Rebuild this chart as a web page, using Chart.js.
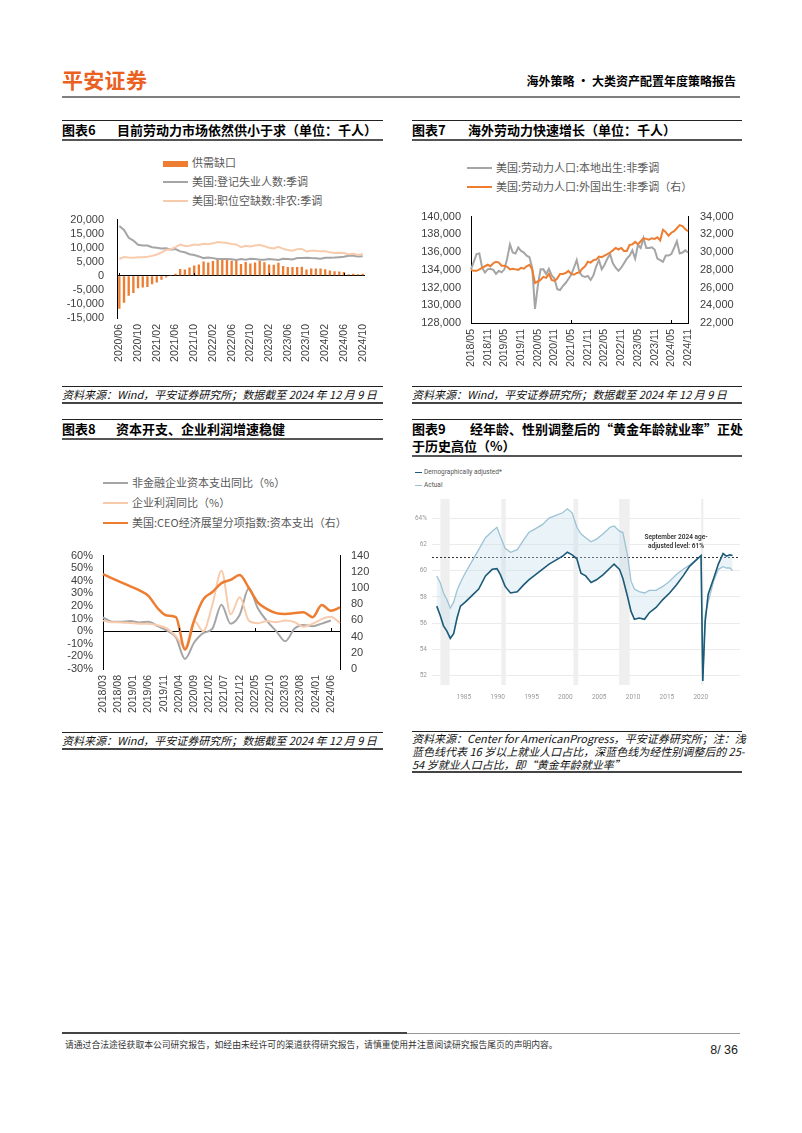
<!DOCTYPE html>
<html lang="zh-CN">
<head>
<meta charset="utf-8">
<title>海外策略 · 大类资产配置年度策略报告</title>
<script src="https://cdn.jsdelivr.net/npm/chart.js@4.4.1/dist/chart.umd.min.js"></script>
<style>
    html, body { margin: 0; padding: 0; background: #fff; }
    body { position: relative; width: 802px; height: 1133px; overflow: hidden; font-family: "Noto Sans CJK SC", "Noto Sans", sans-serif; color: #000; }
    .abs { position: absolute; }
    .logo { left: 62px; top: 65px; font-size: 21px; font-weight: 700; color: #e9601f; line-height: 28px; letter-spacing: 0.3px; }
    .report { right: 66px; top: 72px; font-size: 12px; font-weight: 700; line-height: 17px; }
    .topRule { left: 62px; top: 96px; width: 678px; height: 2px; background: #7f7f7f; }
    .head { border-top: 1px solid #222; border-bottom: 2px solid #555; font-size: 13px; font-weight: 700; line-height: 18px; }
    .head span { position: absolute; top: 0; white-space: nowrap; }
    .src { border-top: 1px solid #222; border-bottom: 2px solid #444; font-size: 11px; font-style: italic; line-height: 15px; color: #111; white-space: nowrap; }
    .lg { font-size: 11px; line-height: 14px; color: #595959; white-space: nowrap; }
    .sw { display: inline-block; width: 25px; height: 2px; vertical-align: middle; margin-right: 4px; position: relative; top: -1px; }
    .lg9 { font-family: Roboto, "Liberation Sans", sans-serif; font-size: 6.5px; line-height: 9px; color: #555; white-space: nowrap; }
    .sw9 { display: inline-block; width: 7px; height: 1.5px; vertical-align: middle; margin-right: 2px; }
    .note9 { font-family: Roboto, "Liberation Sans", sans-serif; font-size: 6.5px; line-height: 9px; color: #333; font-weight: 600; text-align: center; width: 90px; }
    .foot { left: 65px; top: 1039px; font-size: 8.8px; line-height: 12px; color: #333; white-space: nowrap; }
    canvas { position: absolute; }
</style>
</head>
<body>

<div class="abs logo">平安证券</div>
<div class="abs report">海外策略 · 大类资产配置年度策略报告</div>
<div class="abs topRule"></div>

<!-- 图表6 -->
<div class="abs head" style="left:62px;top:120px;width:321px;height:18px;">
    <span style="left:0">图表6</span><span style="left:55px">目前劳动力市场依然供小于求（单位：千人）</span>
</div>
<div class="abs lg" style="left:163px;top:155px;"><span class="sw" style="height:6px;top:0;background:#ED7D31"></span>供需缺口</div>
<div class="abs lg" style="left:163px;top:174px;"><span class="sw" style="background:#A5A5A5"></span>美国:登记失业人数:季调</div>
<div class="abs lg" style="left:163px;top:193px;"><span class="sw" style="background:#F8CBAD"></span>美国:职位空缺数:非农:季调</div>
<canvas id="chart6" width="323" height="170" style="left:62px;top:200px;"></canvas>
<div class="abs src" style="left:62px;top:386px;width:321px;height:15px;">资料来源：Wind，平安证券研究所；数据截至 2024 年 12 月 9 日</div>

<!-- 图表7 -->
<div class="abs head" style="left:412px;top:120px;width:330px;height:18px;">
    <span style="left:0">图表7</span><span style="left:56px">海外劳动力快速增长（单位：千人）</span>
</div>
<div class="abs lg" style="left:467px;top:160px;"><span class="sw" style="background:#A5A5A5"></span>美国:劳动力人口:本地出生:非季调</div>
<div class="abs lg" style="left:467px;top:179px;"><span class="sw" style="background:#ED7D31"></span>美国:劳动力人口:外国出生:非季调（右）</div>
<canvas id="chart7" width="340" height="177" style="left:405px;top:198px;"></canvas>
<div class="abs src" style="left:412px;top:386px;width:330px;height:15px;">资料来源：Wind，平安证券研究所；数据截至 2024 年 12 月 9 日</div>

<!-- 图表8 -->
<div class="abs head" style="left:62px;top:419px;width:321px;height:18px;">
    <span style="left:0">图表8</span><span style="left:54px">资本开支、企业利润增速稳健</span>
</div>
<div class="abs lg" style="left:103px;top:475px;"><span class="sw" style="background:#A5A5A5"></span>非金融企业资本支出同比（%）</div>
<div class="abs lg" style="left:103px;top:495px;"><span class="sw" style="background:#F8CBAD"></span>企业利润同比（%）</div>
<div class="abs lg" style="left:103px;top:515px;"><span class="sw" style="background:#ED7D31"></span>美国:CEO经济展望分项指数:资本支出（右）</div>
<canvas id="chart8" width="323" height="182" style="left:62px;top:538px;"></canvas>
<div class="abs src" style="left:62px;top:732px;width:321px;height:15px;">资料来源：Wind，平安证券研究所；数据截至 2024 年 12 月 9 日</div>

<!-- 图表9 -->
<div class="abs head" style="left:412px;top:419px;width:330px;height:35px;line-height:17px;">
    <span style="left:0">图表9</span>
    <span style="left:58px;width:272px;text-align:justify;text-align-last:justify;">经年龄、性别调整后的“黄金年龄就业率”正处</span>
    <span style="left:0;top:17px">于历史高位（%）</span>
</div>
<div class="abs lg9" style="left:415px;top:468px;"><span class="sw9" style="background:#1b5a78"></span>Demographically adjusted*</div>
<div class="abs lg9" style="left:415px;top:481px;"><span class="sw9" style="background:#9cc3d5"></span>Actual</div>
<canvas id="chart9" width="340" height="215" style="left:405px;top:490px;"></canvas>
<div class="abs note9" style="left:631px;top:533px;">September 2024 age-<br>adjusted level: 61%</div>
<div class="abs src" style="left:412px;top:731px;width:330px;height:39px;line-height:13px;">
    <div style="text-align:justify;text-align-last:justify;">资料来源：Center for AmericanProgress，平安证券研究所；注：浅</div>
    <div style="text-align:justify;text-align-last:justify;">蓝色线代表 16 岁以上就业人口占比，深蓝色线为经性别调整后的 25-</div>
    <div>54 岁就业人口占比，即“黄金年龄就业率”</div>
</div>

<div class="abs" style="left:62px;top:1032px;width:345px;height:2px;background:#444;"></div>
<div class="abs" style="left:407px;top:1033px;width:333px;height:1px;background:#999;"></div>
<div class="abs foot">请通过合法途径获取本公司研究报告，如经由未经许可的渠道获得研究报告，请慎重使用并注意阅读研究报告尾页的声明内容。</div>
<div class="abs" style="right:64px;top:1043px;font-family:'Liberation Sans',Arial,sans-serif;font-size:12.5px;color:#222;">8/ 36</div>

<script>
// ---------- 图表6 数据（千人，2020/06 - 2024/10 月度） ----------
const start6 = [2020, 6];
const gap6 = [-11700, -9600, -7050, -6100, -4400, -4150, -4000, -3000, -2400, -1400,
    -600, 150, 700, 2400, 2250, 3000, 3700, 4050, 5100, 4750,
    5300, 6050, 5900, 5700, 5400, 5500, 4200, 4950, 4400, 4750,
    5300, 4850, 4050, 3900, 4650, 3500, 3150, 3100, 3150, 3200,
    2250, 2650, 2600, 2600, 2300, 1900, 1650, 1550, 1350, 550,
    750, 550, 750];
const unemployed6 = [17700, 16300, 13550, 12550, 11050, 10750, 10750, 10150, 10000, 9700,
    9800, 9300, 9500, 8700, 8400, 7700, 7400, 6900, 6300, 6500,
    6300, 5950, 5950, 5950, 5900, 5650, 6000, 5750, 6050, 6000,
    5700, 5700, 5950, 5850, 5650, 6100, 6000, 5850, 6350, 6350,
    6450, 6300, 6250, 6100, 6450, 6450, 6500, 6650, 6800, 7150,
    7100, 6850, 7000];
const openings6 = [6000, 6700, 6500, 6450, 6650, 6600, 6750, 7100, 7600, 8300,
    9200, 9450, 10200, 11100, 10650, 10700, 11100, 10950, 11400, 11250,
    11550, 12050, 11850, 11700, 11300, 11150, 10200, 10700, 10450, 10750,
    11000, 10550, 10000, 9750, 10300, 9600, 9150, 8900, 9500, 9550,
    8700, 8950, 8900, 8700, 8750, 8350, 8150, 8200, 8150, 7700,
    7850, 7400, 7750];

// ---------- 图表7 数据（千人，2018/05 - 2024/11 月度） ----------
const start7 = [2018, 5];
const nativeBorn7 = [134050, 134900, 135770, 135840, 134230, 133700, 134050, 134120, 133990, 133540,
    133880, 133710, 134050, 135260, 136870, 135950, 135840, 136530, 136120, 135950,
    135600, 135430, 134230, 129590, 132170, 134050, 134050, 133540, 134120, 133370,
    133020, 131820, 131720, 132170, 132510, 132960, 133440, 134230, 135090, 133710,
    133300, 133200, 133300, 132850, 133370, 134400, 135090, 134050, 134570, 135260,
    135770, 134740, 134230, 133880, 134230, 134740, 135260, 135600, 136190, 135260,
    136800, 136460, 137560, 136460, 136460, 136530, 136290, 135260, 135090, 134910,
    135600, 135600, 135770, 136460, 137220, 135840, 135950, 136190, 135950];
const foreignBorn7 = [27990, 27880, 27880, 28050, 28230, 28400, 28570, 28400, 28740, 28910,
    28810, 28470, 28470, 28330, 28050, 28120, 28050, 27990, 28230, 28120,
    28400, 28570, 28050, 26510, 26680, 26850, 27200, 27090, 27540, 26850,
    26750, 27020, 27540, 27540, 27640, 27880, 27540, 27440, 27640, 27710,
    28120, 28400, 28910, 28810, 29090, 29150, 29500, 29430, 29600, 29770,
    29950, 30190, 30460, 30290, 30460, 30120, 30120, 30800, 30870, 31150,
    30870, 31220, 31560, 31490, 31390, 31560, 31490, 31660, 31320, 32520,
    32250, 31840, 32180, 32350, 32690, 33040, 32930, 32590, 32350];

// ---------- 图表8 数据（季度，轴为 2018/03 - 2024/09 月度） ----------
const start8 = [2018, 3];
const quarters8 = ['2018/03', '2018/06', '2018/09', '2018/12', '2019/03', '2019/06', '2019/09', '2019/12',
    '2020/03', '2020/06', '2020/09', '2020/12', '2021/03', '2021/06', '2021/09', '2021/12',
    '2022/03', '2022/06', '2022/09', '2022/12', '2023/03', '2023/06', '2023/09', '2023/12',
    '2024/03', '2024/06', '2024/09'];
const capex8 = [11, 7.5, 7.5, 8, 7, 7.5, 4, 0.5, -5, -22, -9, -1.5, 2, 21, 6, 13, 34, 18, 8, 0, -8, 2, 5, 4, 6, 8.5];
const profit8 = [8.4, 7.2, 7, 6.5, 6, 6, 4.7, 2.2, -4, -13, 8, 0, 21, 48, 13.4, 27, 8.4, 6.4, 8, 7.2, 8.4, 7.2, 3.5, 6, 9.6, 11.4, 6.4];
const ceo8 = [117, 112, 107, 102, 97, 90, 75, 66, 64, 24, 60, 86, 95, 106, 110, 116, 100, 82, 74, 69, 68, 69, 70, 64, 79, 72, 76];

// ---------- 图表9 数据（%） ----------
const years9 = [1981.0, 1981.5, 1982.0, 1982.5, 1983.0, 1983.5, 1984.0, 1984.5, 1985.2, 1986.2,
    1987.2, 1988.2, 1989.2, 1989.9, 1990.4, 1991.1, 1991.9, 1992.9, 1993.8, 1994.6,
    1995.6, 1996.6, 1997.6, 1998.6, 1999.6, 2000.3, 2001.0, 2001.7, 2002.3, 2003.0,
    2003.8, 2004.6, 2005.6, 2006.6, 2007.2, 2008.0, 2008.5, 2009.2, 2009.7, 2010.2,
    2010.9, 2011.7, 2012.4, 2013.4, 2014.4, 2015.4, 2016.4, 2017.4, 2018.3, 2019.3,
    2020.05, 2020.3, 2020.65, 2021.1, 2021.9, 2022.6, 2023.3, 2023.8, 2024.3, 2024.7];
const adjusted9 = [57.3, 56.6, 55.8, 55.4, 54.85, 55.2, 56.4, 57.3, 57.6, 58.1,
    58.6, 59.6, 60.1, 60.15, 59.7, 58.8, 58.3, 58.4, 58.9, 59.3,
    59.7, 60.1, 60.5, 60.8, 61.1, 61.4, 61.2, 60.9, 59.8, 59.6,
    59.1, 59.3, 59.7, 60.2, 60.5, 60.1, 59.4, 58.0, 56.9, 56.3,
    56.4, 56.3, 56.8, 57.2, 57.8, 58.3, 58.9, 59.6, 60.3, 60.8,
    61.15, 51.6, 56.1, 58.2, 59.4, 60.5, 61.3, 61.1, 61.2, 61.15];
const actual9 = [59.6, 59.1, 58.3, 57.8, 57.15, 57.6, 58.5, 59.1, 59.8, 60.7,
    61.6, 62.5, 63.0, 63.3, 62.6, 61.7, 61.4, 61.6, 62.3, 62.9,
    63.2, 63.5, 64.0, 64.2, 64.4, 64.7, 64.4, 63.3, 62.8, 62.5,
    62.2, 62.4, 62.8, 63.3, 63.4, 63.0, 62.9, 61.1, 59.2, 58.6,
    58.4, 58.3, 58.5, 58.5, 58.8, 59.2, 59.7, 60.1, 60.4, 60.8,
    61.1, 51.6, 56.6, 57.6, 59.2, 60.1, 60.3, 60.2, 60.2, 60.0];
const level9 = 61;
const recessionStart9 = [1981.55, 1990.55, 2001.2, 2007.95, 2020.05];
const recessionEnd9 = [1982.9, 1991.2, 2001.9, 2009.5, 2020.4];
const xTicks9 = [1985, 1990, 1995, 2000, 2005, 2010, 2015, 2020];
const yTicks9 = [52, 54, 56, 58, 60, 62, 64];

const orange = '#ED7D31';
const gray = '#A5A5A5';
const peach = '#F8CBAD';

function monthLabels(start, count) {
    const out = [];
    for (let i = 0; i < count; i++) {
        const k = start[1] - 1 + i;
        out.push((start[0] + Math.floor(k / 12)) + '/' + String(k % 12 + 1).padStart(2, '0'));
    }
    return out;
}

const months6 = monthLabels(start6, gap6.length);
const months7 = monthLabels(start7, nativeBorn7.length);
const months8 = monthLabels(start8, 79);

Chart.defaults.font.family = '"Liberation Sans", Arial, sans-serif';
Chart.defaults.color = '#404040';
Chart.defaults.animation = false;
Chart.defaults.responsive = false;
Chart.defaults.plugins.legend.display = false;
Chart.defaults.plugins.tooltip.enabled = false;

// short tick marks drawn inside the plot, as in the Excel charts
const innerTicks = {
    id: 'innerTicks',
    afterDatasetsDraw(chart, args, opts) {
        const ctx = chart.ctx;
        const area = chart.chartArea;
        const len = opts.len || 3;
        ctx.save();
        ctx.strokeStyle = '#000';
        ctx.lineWidth = 1;
        ctx.beginPath();
        for (const axis of opts.axes || []) {
            const scale = chart.scales[axis.id];
            const every = axis.every || 1;
            scale.ticks.forEach((tick, i) => {
                if (i % every !== 0) return;
                const p = Math.round(scale.getPixelForTick(i)) + 0.5;
                if (axis.side === 'left') {
                    ctx.moveTo(area.left, p);
                    ctx.lineTo(area.left + len, p);
                } else if (axis.side === 'right') {
                    ctx.moveTo(area.right, p);
                    ctx.lineTo(area.right - len, p);
                } else {
                    const base = axis.onScale ? chart.scales[axis.onScale].getPixelForValue(axis.at) : area.bottom;
                    const y = Math.round(base);
                    ctx.moveTo(p, y);
                    ctx.lineTo(p, y - len);
                }
            });
        }
        ctx.stroke();
        ctx.restore();
    }
};

const recessionBands = {
    id: 'recessionBands',
    beforeDatasetsDraw(chart, args, opts) {
        const x = chart.scales.x;
        const area = chart.chartArea;
        const ctx = chart.ctx;
        ctx.save();
        ctx.fillStyle = opts.color;
        opts.starts.forEach((s, i) => {
            const a = x.getPixelForValue(s);
            const b = x.getPixelForValue(opts.ends[i]);
            ctx.fillRect(a, area.top, Math.max(b - a, 2), area.bottom - area.top);
        });
        ctx.restore();
    }
};

const zeroLine = c => c.tick.value === 0 ? '#000' : 'rgba(0,0,0,0)';
const thousands = v => v.toLocaleString('en-US');

function monthAxis(every, height) {
    return {
        grid: { display: false, drawTicks: false },
        ticks: {
            autoSkip: false, minRotation: 90, maxRotation: 90, padding: 6,
            font: { size: 10.5 },
            callback(v, i) { return i % every === 0 ? this.getLabelForValue(v) : null; }
        },
        afterFit(s) { s.height = height; }
    };
}

// ---------- 图表6 ----------
const x6 = monthAxis(4, 52);
x6.offset = true;
x6.border = { display: false };
new Chart(document.getElementById('chart6'), {
    type: 'bar',
    data: {
        labels: months6,
        datasets: [
            { type: 'line', label: '美国:职位空缺数:非农:季调', data: openings6, borderColor: peach, borderWidth: 2, pointRadius: 0, order: 0 },
            { type: 'line', label: '美国:登记失业人数:季调', data: unemployed6, borderColor: gray, borderWidth: 2, pointRadius: 0, order: 1 },
            { type: 'bar', label: '供需缺口', data: gap6, backgroundColor: orange, barPercentage: 0.5, categoryPercentage: 1, order: 2 }
        ]
    },
    options: {
        layout: { padding: { top: 14, right: 20 } },
        scales: {
            x: x6,
            y: {
                min: -15000, max: 20000,
                ticks: { stepSize: 5000, autoSkip: false, padding: 13, font: { size: 11 }, callback: thousands },
                grid: { drawTicks: false, color: zeroLine },
                border: { display: true, color: '#000' },
                afterFit(s) { s.width = 55; }
            }
        },
        plugins: { innerTicks: { axes: [{ id: 'y', side: 'left' }, { id: 'x', every: 4, onScale: 'y', at: 0 }] } }
    },
    plugins: [innerTicks]
});

// ---------- 图表7 ----------
const x7 = monthAxis(6, 52);
x7.border = { display: true, color: '#000' };
new Chart(document.getElementById('chart7'), {
    type: 'line',
    data: {
        labels: months7,
        datasets: [
            { label: '美国:劳动力人口:本地出生:非季调', data: nativeBorn7, borderColor: gray, borderWidth: 2, pointRadius: 0, yAxisID: 'y', order: 1 },
            { label: '美国:劳动力人口:外国出生:非季调（右）', data: foreignBorn7, borderColor: orange, borderWidth: 2, pointRadius: 0, yAxisID: 'y1', order: 0 }
        ]
    },
    options: {
        layout: { padding: { top: 9 } },
        scales: {
            x: x7,
            y: {
                position: 'left', min: 128000, max: 140000,
                ticks: { stepSize: 2000, autoSkip: false, padding: 10, font: { size: 11 }, callback: thousands },
                grid: { display: false, drawTicks: false },
                border: { display: true, color: '#000' },
                afterFit(s) { s.width = 66; }
            },
            y1: {
                position: 'right', min: 22000, max: 34000,
                ticks: { stepSize: 2000, autoSkip: false, padding: 12, font: { size: 11 }, callback: thousands },
                grid: { display: false, drawTicks: false },
                border: { display: true, color: '#000' },
                afterFit(s) { s.width = 57; }
            }
        },
        plugins: { innerTicks: { axes: [{ id: 'y', side: 'left' }, { id: 'y1', side: 'right' }, { id: 'x', every: 6 }] } }
    },
    plugins: [innerTicks]
});

// ---------- 图表8 ----------
const x8 = monthAxis(5, 51);
x8.border = { display: false };
const quarterPoints = values => values.map((v, i) => ({ x: quarters8[i], y: v }));
new Chart(document.getElementById('chart8'), {
    type: 'line',
    data: {
        labels: months8,
        datasets: [
            { label: '非金融企业资本支出同比（%）', data: quarterPoints(capex8), borderColor: gray, borderWidth: 2, pointRadius: 0, cubicInterpolationMode: 'monotone', yAxisID: 'y', order: 2 },
            { label: '企业利润同比（%）', data: quarterPoints(profit8), borderColor: peach, borderWidth: 2, pointRadius: 0, cubicInterpolationMode: 'monotone', yAxisID: 'y', order: 1 },
            { label: '美国:CEO经济展望分项指数:资本支出（右）', data: quarterPoints(ceo8), borderColor: orange, borderWidth: 2.5, pointRadius: 0, cubicInterpolationMode: 'monotone', yAxisID: 'y1', order: 0 }
        ]
    },
    options: {
        layout: { padding: { top: 10 } },
        scales: {
            x: x8,
            y: {
                position: 'left', min: -30, max: 60,
                ticks: { stepSize: 10, autoSkip: false, padding: 10, font: { size: 11 }, callback: v => v + '%' },
                grid: { drawTicks: false, color: zeroLine },
                border: { display: true, color: '#000' },
                afterFit(s) { s.width = 41; }
            },
            y1: {
                position: 'right', min: 0, max: 140,
                ticks: { stepSize: 20, autoSkip: false, padding: 11, font: { size: 11 } },
                grid: { display: false, drawTicks: false },
                border: { display: true, color: '#000' },
                afterFit(s) { s.width = 45; }
            }
        },
        plugins: { innerTicks: { axes: [{ id: 'y', side: 'left' }, { id: 'y1', side: 'right' }, { id: 'x', every: 5, onScale: 'y', at: 0 }] } }
    },
    plugins: [innerTicks]
});

// ---------- 图表9 ----------
const pairs = values => values.map((v, i) => ({ x: years9[i], y: v }));
const tickFont9 = { family: 'Roboto, "Liberation Sans", sans-serif', size: 6.5 };
new Chart(document.getElementById('chart9'), {
    type: 'line',
    data: {
        datasets: [
            { label: 'Demographically adjusted*', data: pairs(adjusted9), borderColor: '#1b5a78', borderWidth: 1.6, pointRadius: 0, order: 0 },
            { label: 'Actual', data: pairs(actual9), borderColor: '#9cc3d5', borderWidth: 1.3, pointRadius: 0, fill: '-1', backgroundColor: 'rgba(196,222,236,0.35)', order: 1 },
            { label: 'level', data: [{ x: 1980.3, y: level9 }, { x: 2025.8, y: level9 }], borderColor: '#333', borderWidth: 1, borderDash: [2, 2], pointRadius: 0, order: 2 }
        ]
    },
    options: {
        layout: { padding: { top: 9, right: 5 } },
        scales: {
            x: {
                type: 'linear', min: 1980.3, max: 2025.8,
                afterBuildTicks(s) { s.ticks = xTicks9.map(v => ({ value: v })); },
                ticks: { autoSkip: false, padding: 8, color: '#999', font: tickFont9, callback: v => String(v) },
                grid: { display: false, drawTicks: false },
                border: { display: false },
                afterFit(s) { s.height = 20; }
            },
            y: {
                min: 51.3, max: 65.45,
                afterBuildTicks(s) { s.ticks = yTicks9.map(v => ({ value: v })); },
                ticks: { autoSkip: false, padding: 5, color: '#999', font: tickFont9, callback: v => v === 64 ? '64%' : String(v) },
                grid: { drawTicks: false, color: '#ebebeb' },
                border: { display: false },
                afterFit(s) { s.width = 27; }
            }
        },
        plugins: {
            recessionBands: { color: '#efefef', starts: recessionStart9, ends: recessionEnd9 },
            filler: { propagate: false }
        }
    },
    plugins: [recessionBands]
});
</script>
</body>
</html>
